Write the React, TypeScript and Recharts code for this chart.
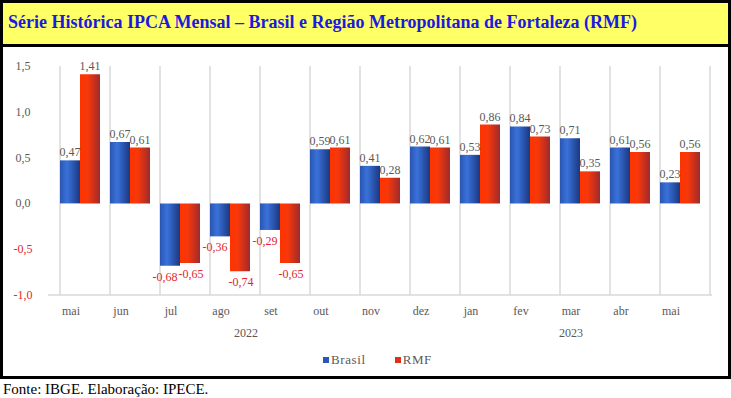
import { BarChart, Bar, XAxis, YAxis, CartesianGrid, ReferenceLine, LabelList, Legend } from 'recharts';

const months = ['mai', 'jun', 'jul', 'ago', 'set', 'out', 'nov', 'dez', 'jan', 'fev', 'mar', 'abr', 'mai'];
const brasil = [0.47, 0.67, -0.68, -0.36, -0.29, 0.59, 0.41, 0.62, 0.53, 0.84, 0.71, 0.61, 0.23];
const rmf = [1.41, 0.61, -0.65, -0.74, -0.65, 0.61, 0.28, 0.61, 0.86, 0.73, 0.35, 0.56, 0.56];
const yTicks = [-1, -0.5, 0, 0.5, 1, 1.5];
const years = [
  { label: '2022', from: 0, to: 7 },
  { label: '2023', from: 8, to: 12 },
];

const data = months.map((m, i) => ({ key: `${m}-${i}`, month: m, brasil: brasil[i], rmf: rmf[i] }));

const GRAY = '#595959';
const RED = '#e3262b';
const FONT = '"Liberation Serif", "Times New Roman", serif';

const fmt = (v: number, digits: number) => v.toFixed(digits).replace('.', ',');

function MonthTick(props: any) {
  const { x, y, payload, index } = props;
  const half = payload?.offset ?? 25;
  const year = years.find((yr) => Math.floor((yr.from + yr.to) / 2) === index);
  let yearX = 0;
  if (year) {
    const mid = (year.from + year.to) / 2;
    yearX = x + (mid - Math.floor(mid)) * half * 2;
  }
  return (
    <g>
      <text x={x - 9} y={y + 20} textAnchor="middle" fill={GRAY} fontSize={12} fontFamily={FONT}>
        {data[index]?.month}
      </text>
      {year && (
        <text x={yearX - 9} y={y + 42} textAnchor="middle" fill={GRAY} fontSize={12} fontFamily={FONT}>
          {year.label}
        </text>
      )}
    </g>
  );
}

function ValueTick(props: any) {
  const { y, payload } = props;
  const v = payload.value as number;
  return (
    <text x={23} y={y + 4} textAnchor="middle" fill={v < 0 ? RED : GRAY} fontSize={12} fontFamily={FONT}>
      {fmt(v, 1)}
    </text>
  );
}

function makeLabel(shiftNeg: number) {
  return (props: any) => {
    const { x, y, width, height, value } = props;
    const v = value as number;
    const top = Math.min(y, y + height);
    const bottom = Math.max(y, y + height);
    const cx = x + width / 2;
    if (v >= 0) {
      return (
        <text x={cx} y={top - 4} textAnchor="middle" fill={GRAY} fontSize={12} fontFamily={FONT}>
          {fmt(v, 2)}
        </text>
      );
    }
    return (
      <text x={cx + shiftNeg} y={bottom + 15} textAnchor="middle" fill={RED} fontSize={12} fontFamily={FONT}>
        {fmt(v, 2)}
      </text>
    );
  };
}

function LegendContent() {
  const items = [
    { name: 'Brasil', color: '#2a58b8' },
    { name: 'RMF', color: '#e0301a' },
  ];
  return (
    <div style={{ display: 'flex', alignItems: 'center', fontFamily: FONT, fontSize: 13, color: GRAY, lineHeight: '14px' }}>
      {items.map((it, i) => (
        <div key={it.name} style={{ display: 'flex', alignItems: 'center', marginLeft: i ? 29 : 0 }}>
          <span style={{ width: 6, height: 6, background: it.color, display: 'inline-block', marginRight: 2 }} />
          <span style={{ letterSpacing: 0.6 }}>{it.name}</span>
        </div>
      ))}
    </div>
  );
}

export default function App() {
  return (
    <div style={{ position: 'absolute', left: 0, top: 0, width: 731, height: 398, background: '#fff', fontFamily: FONT }}>
      <div
        style={{
          position: 'absolute', left: 0, top: 0, width: 731, height: 47, boxSizing: 'border-box',
          border: '3px solid #000', background: '#ffff66',
        }}
      >
        <div style={{ position: 'absolute', left: 5, top: 9, fontSize: 18, fontWeight: 'bold', color: '#1a1ae0', whiteSpace: 'nowrap', lineHeight: '20px' }}>
          Série Histórica IPCA Mensal – Brasil e Região Metropolitana de Fortaleza (RMF)
        </div>
      </div>
      <div
        style={{
          position: 'absolute', left: 0, top: 47, width: 731, height: 332, boxSizing: 'border-box',
          borderLeft: '3px solid #000', borderRight: '3px solid #000', borderBottom: '3px solid #000',
        }}
      />
      <div style={{ position: 'absolute', left: 3, top: 380, fontSize: 15, color: '#000', whiteSpace: 'nowrap', lineHeight: '18px' }}>
        Fonte: IBGE. Elaboração: IPECE.
      </div>
      <div style={{ position: 'absolute', left: 0, top: 0 }}>
        <BarChart
          width={731}
          height={398}
          data={data}
          margin={{ top: 66, right: 19, bottom: 73, left: 8 }}
          barCategoryGap="10%"
          barGap={0}
        >
          <defs>
            <linearGradient id="gBlue" x1="0" y1="0" x2="1" y2="0">
              <stop offset="0" stopColor="#2a55b0" />
              <stop offset="0.35" stopColor="#3a72da" />
              <stop offset="1" stopColor="#1a3880" />
            </linearGradient>
            <linearGradient id="gRed" x1="0" y1="0" x2="1" y2="0">
              <stop offset="0" stopColor="#ff3400" />
              <stop offset="0.4" stopColor="#f6380c" />
              <stop offset="1" stopColor="#9e2a2c" />
            </linearGradient>
          </defs>
          <CartesianGrid
            horizontal={false}
            stroke="#d9d9d9"
            strokeWidth={1.5}
            verticalCoordinatesGenerator={({ offset }: any) => {
              const bw = (offset.width - 14) / months.length;
              return Array.from({ length: months.length + 1 }, (_, i) => offset.left + 7 + bw * (i + 0.1));
            }}
          />
          <XAxis
            dataKey="key"
            axisLine={false}
            tickLine={false}
            tickSize={0}
            tickMargin={0}
            height={30}
            padding={{ left: 7, right: 7 }}
            interval={0}
            tick={<MonthTick />}
          />
          <YAxis
            domain={[-1, 1.5]}
            ticks={yTicks}
            width={40}
            axisLine={false}
            tickLine={false}
            tick={<ValueTick />}
          />
          <ReferenceLine y={-1} stroke="#d9d9d9" strokeWidth={1.5} />
          <Legend
            layout="horizontal"
            verticalAlign="middle"
            align="center"
            wrapperStyle={{ top: 353, left: 323, width: 'auto' }}
            content={<LegendContent />}
          />
          <Bar dataKey="brasil" name="Brasil" fill="url(#gBlue)" isAnimationActive={false}>
            <LabelList dataKey="brasil" content={makeLabel(-5)} />
          </Bar>
          <Bar dataKey="rmf" name="RMF" fill="url(#gRed)" isAnimationActive={false}>
            <LabelList dataKey="rmf" content={makeLabel(1)} />
          </Bar>
        </BarChart>
      </div>
    </div>
  );
}
